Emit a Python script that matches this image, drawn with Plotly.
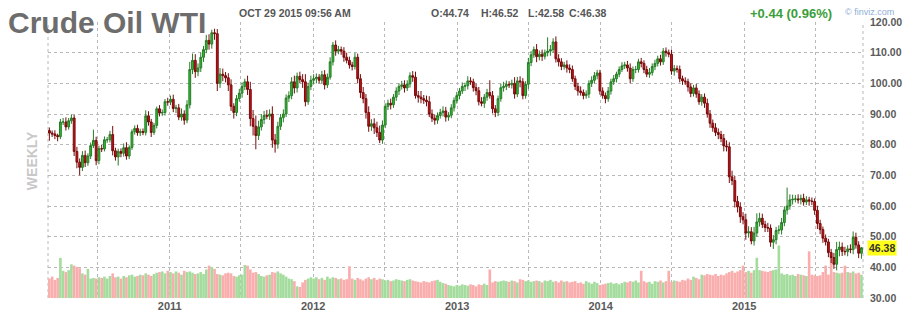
import pandas as pd
import plotly.graph_objects as go

# ---------------- data (weekly) ----------------
first_open = 84.6

close_2010 = [83.8, 83.5, 83.0, 82.6, 87.4, 87.4, 85.8, 87.8, 88.7, 77.8,
              74.3, 72.6, 76.5, 74.1, 76.3, 79.7, 81.4, 74.8, 78.7, 78.6,
              81.6, 81.6, 83.3, 78.0, 76.0, 77.8, 77.2, 79.0, 76.3, 79.1,
              84.2, 85.3, 83.9, 84.3, 84.0, 89.4, 87.4, 84.0, 86.3, 91.7,
              90.3, 90.5, 94.0, 93.9]
close_2011 = [94.8, 91.8, 92.0, 89.0, 90.0, 88.0, 93.0, 104.5, 107.5, 103.8,
              105.0, 108.5, 111.0, 114.0, 112.8, 116.5, 116.2, 100.0, 103.0, 102.5,
              101.8, 99.5, 92.5, 90.5, 95.0, 96.8, 99.0, 100.5, 98.0, 88.5,
              86.0, 83.0, 85.8, 88.2, 89.5, 89.3, 90.0, 81.5, 80.2, 86.0,
              88.8, 90.0, 95.2, 96.0, 100.5, 98.5, 102.3, 101.2, 100.5, 94.0,
              99.0, 101.0]
close_2012 = [101.5, 102.0, 101.0, 102.8, 99.5, 102.0, 107.0, 112.5, 110.5, 111.0,
              110.5, 108.5, 107.5, 106.0, 105.5, 108.5, 101.5, 97.0, 95.0, 90.5,
              86.0, 86.8, 85.5, 84.0, 81.5, 86.4, 92.5, 93.5, 93.0, 95.5,
              97.5, 99.0, 99.5, 98.5, 99.8, 102.5, 102.0, 96.0, 95.5, 95.0,
              94.5, 94.0, 90.0, 88.6, 88.0, 89.5, 90.5, 91.0, 89.0, 89.6,
              92.0, 94.4]
close_2013 = [96.0, 97.5, 99.0, 99.2, 100.8, 100.5, 98.6, 97.6, 94.0, 93.5,
              95.5, 97.0, 96.0, 91.7, 90.5, 95.0, 98.6, 99.0, 99.7, 99.5,
              100.0, 96.5, 100.8, 100.5, 96.0, 99.7, 106.8, 109.3, 111.0, 108.7,
              109.5, 108.8, 110.0, 110.5, 111.0, 113.5, 108.0, 107.0, 105.5, 106.0,
              105.0, 104.5, 101.5, 99.0, 97.5, 97.0, 96.0, 96.5, 100.0, 101.0,
              102.5, 103.4]
close_2014 = [97.5, 96.0, 95.0, 97.5, 100.5, 101.5, 103.0, 104.5, 105.7, 106.0,
              105.0, 101.5, 104.5, 104.5, 107.0, 106.5, 104.5, 103.0, 103.5, 105.5,
              106.5, 108.0, 107.0, 110.5, 110.0, 109.5, 104.0, 104.8, 104.5, 101.5,
              100.8, 100.5, 98.8, 96.7, 98.5, 96.5, 94.0, 95.5, 93.5, 90.0,
              87.0, 85.5, 84.0, 83.3, 82.0, 79.6, 79.3, 69.5, 68.3, 61.5,
              59.7, 56.5]
close_2015 = [55.5, 51.2, 51.6, 48.6, 51.2, 54.8, 56.0, 54.0, 53.0, 52.8,
              48.2, 49.0, 52.0, 52.2, 54.6, 58.7, 60.0, 62.0, 62.2, 62.3,
              62.0, 62.5, 61.3, 62.0, 61.6, 61.5, 58.6, 54.3, 52.3, 49.5,
              48.3, 44.8, 43.2, 41.0, 45.8, 46.6, 45.2, 45.1, 46.0, 45.8,
              49.8, 47.3, 44.6, 46.38]

# upper / lower wick lengths (price units above / below the candle body)
wick_up_2010 = [1.0, 0.8, 1.2, 0.6, 1.0, 1.3, 1.5, 0.9, 1.2, 1.0, 1.5, 1.2, 1.4, 1.6, 0.9,
                1.0, 3.5, 1.2, 1.0, 1.3, 1.1, 0.9, 1.2, 2.8, 1.0, 0.9, 1.0, 1.4, 1.8, 0.7,
                0.8, 1.0, 1.2, 0.9, 1.0, 1.8, 1.5, 1.0, 0.8, 0.7, 1.2, 1.0, 0.9, 1.3]
wick_dn_2010 = [2.5, 1.0, 1.2, 1.5, 0.8, 1.0, 1.2, 0.9, 1.0, 1.5, 2.0, 2.6, 1.2, 1.4, 1.0,
                1.0, 0.8, 1.5, 1.2, 1.0, 0.8, 1.0, 0.9, 1.5, 1.2, 2.8, 1.3, 1.1, 1.2, 1.0,
                0.8, 0.9, 1.0, 1.1, 0.9, 1.0, 1.2, 1.5, 0.8, 1.0, 1.1, 0.9, 1.0, 1.2]
wick_up_2011 = [1.2, 1.5, 1.0, 1.3, 1.8, 1.2, 1.5, 2.5, 2.2, 2.0, 1.5, 1.6, 1.2, 1.8, 2.0,
                1.0, 1.3, 1.5, 2.0, 1.8, 1.2, 1.5, 1.8, 1.0, 1.2, 1.4, 1.3, 1.0, 2.0, 2.5,
                2.8, 3.5, 2.0, 1.8, 1.5, 1.8, 1.5, 2.5, 2.0, 1.5, 1.2, 1.5, 1.2, 1.4, 1.5,
                2.0, 1.2, 1.5, 1.8, 2.5, 1.2, 1.5]
wick_dn_2011 = [1.0, 1.2, 1.5, 1.0, 1.2, 1.5, 1.0, 1.2, 1.5, 2.0, 1.5, 1.3, 1.5, 1.2, 1.8,
                1.5, 2.0, 2.5, 1.5, 1.8, 1.5, 2.0, 1.5, 2.0, 1.2, 1.0, 1.5, 1.2, 1.8, 2.5,
                3.0, 4.5, 1.5, 1.2, 1.5, 1.0, 1.2, 2.5, 2.8, 1.5, 1.2, 1.5, 1.0, 1.3, 1.2,
                1.8, 1.5, 1.2, 2.0, 1.5, 1.0, 1.2]
wick_up_2012 = [1.5, 1.2, 1.0, 1.3, 1.5, 1.2, 1.5, 1.0, 1.5, 1.2, 1.0, 1.3, 1.5, 1.2, 1.0,
                1.5, 1.2, 1.5, 1.8, 1.5, 2.0, 1.5, 1.8, 2.0, 2.2, 1.5, 1.0, 1.2, 1.5, 1.0,
                1.2, 1.0, 1.3, 1.5, 1.2, 1.1, 1.5, 1.8, 1.5, 2.0, 1.2, 1.5, 1.8, 1.5, 1.2,
                1.0, 1.2, 1.5, 1.3, 1.0, 1.2, 1.0]
wick_dn_2012 = [1.2, 1.5, 1.0, 1.2, 1.5, 1.0, 0.8, 1.2, 1.5, 1.0, 1.2, 1.5, 1.0, 1.2, 1.3,
                1.0, 1.5, 1.8, 1.5, 2.0, 1.8, 1.5, 2.0, 1.5, 1.0, 1.2, 1.0, 1.2, 1.5, 1.0,
                1.2, 1.3, 1.0, 1.5, 1.0, 1.2, 1.5, 1.0, 1.8, 1.5, 1.2, 1.5, 1.0, 1.2, 1.5,
                1.2, 1.0, 1.3, 1.5, 1.2, 1.0, 1.2]
wick_up_2013 = [1.2, 1.0, 1.3, 1.0, 1.5, 1.2, 1.0, 1.3, 1.2, 1.5, 1.0, 1.2, 4.0, 1.5, 1.2,
                1.0, 1.3, 1.5, 1.2, 1.0, 1.2, 2.0, 1.3, 1.5, 1.2, 1.0, 1.5, 1.2, 1.0, 1.8,
                1.2, 1.5, 1.0, 4.5, 1.5, 1.2, 1.8, 1.5, 1.2, 1.0, 1.5, 1.2, 1.3, 1.0, 1.2,
                1.5, 1.0, 1.2, 1.0, 1.3, 1.2, 1.0]
wick_dn_2013 = [1.0, 1.2, 1.0, 1.5, 1.2, 1.0, 1.3, 1.5, 1.2, 1.0, 1.5, 1.2, 1.0, 1.5, 1.5,
                1.2, 1.0, 1.3, 1.2, 1.0, 1.2, 1.5, 1.0, 1.8, 1.2, 1.0, 1.5, 1.2, 1.0, 1.8,
                1.2, 1.5, 1.0, 1.2, 1.5, 1.0, 1.2, 1.5, 1.2, 1.0, 1.5, 1.2, 1.0, 1.2, 1.5,
                1.0, 1.2, 1.0, 1.3, 1.2, 1.0, 1.2]
wick_up_2014 = [1.0, 1.2, 1.0, 1.3, 1.0, 1.2, 0.8, 1.0, 1.2, 1.0, 1.3, 1.5, 1.0, 1.2, 1.0,
                1.3, 1.0, 1.2, 1.5, 1.0, 1.2, 1.0, 1.3, 1.0, 1.2, 1.0, 1.5, 1.2, 1.0, 1.3,
                1.0, 1.2, 1.0, 1.2, 1.0, 1.3, 1.2, 1.0, 1.2, 1.5, 1.3, 1.2, 1.5, 1.3, 1.2,
                1.5, 1.8, 1.5, 2.0, 1.5, 1.8, 1.5]
wick_dn_2014 = [1.2, 1.0, 1.5, 1.0, 1.2, 1.0, 1.2, 1.0, 0.8, 1.0, 1.2, 1.5, 1.0, 1.2, 1.0,
                1.3, 1.2, 1.0, 1.2, 1.0, 1.2, 1.0, 1.2, 1.0, 1.3, 1.0, 1.2, 1.5, 1.0, 1.2,
                1.3, 1.0, 1.5, 1.2, 1.0, 1.2, 1.0, 1.3, 1.5, 1.2, 1.5, 1.3, 1.2, 1.5, 1.2,
                1.8, 1.5, 2.0, 1.5, 2.0, 1.8, 2.0]
wick_up_2015 = [1.5, 2.0, 1.8, 1.5, 2.0, 2.8, 1.8, 1.5, 1.2, 1.5, 1.2, 1.5, 1.2, 1.5, 1.5,
                1.2, 6.0, 1.8, 1.5, 1.3, 1.5, 1.2, 1.5, 1.2, 1.0, 1.2, 1.0, 1.5, 1.2, 1.0,
                1.2, 1.0, 1.2, 1.5, 2.5, 1.8, 1.5, 1.5, 1.2, 1.5, 1.9, 1.5, 1.2, 0.2]
wick_dn_2015 = [1.5, 2.2, 1.5, 1.1, 1.5, 1.2, 1.5, 1.2, 1.5, 1.3, 1.5, 2.2, 1.5, 1.2, 1.5,
                1.2, 1.5, 1.2, 1.5, 1.0, 1.2, 1.5, 1.2, 1.0, 1.5, 1.2, 1.5, 1.8, 1.5, 1.5,
                1.2, 1.5, 1.8, 1.5, 2.0, 2.2, 1.5, 1.2, 1.5, 1.2, 1.5, 1.2, 1.6, 1.8]

# weekly volume (thousand contracts)
volume_2010 = [1500, 1650, 1400, 1550, 3100, 2100, 2000, 2150, 2600, 2500,
               2400, 2300, 1900, 1800, 2250, 1500, 1550, 1500, 1600, 1550,
               1650, 1500, 1700, 1900, 1600, 1650, 1500, 1700, 1600, 1750,
               1800, 1650, 1700, 1800, 1750, 1900, 1800, 1700, 1850, 1950,
               2000, 2050, 1900, 2100]
volume_2011 = [2000, 1900, 2050, 1950, 1800, 2100, 2000, 2050, 1950, 1850,
               1900, 2000, 1850, 2200, 2500, 2400, 2250, 1850, 1800, 1750,
               1900, 1950, 1900, 1700, 1650, 1750, 1800, 2550, 2500, 2200,
               1950, 2000, 1850, 1700, 1650, 1750, 1800, 2000, 1950, 2050,
               1900, 1800, 1650, 1500, 1450, 1300, 900, 850, 1200, 1400,
               1500, 1600]
volume_2012 = [1500, 1600, 1450, 1550, 1400, 1650, 1500, 1600, 1550, 1450,
               1500, 1400, 1450, 2450, 1500, 1400, 1550, 1450, 1350, 1500,
               1600, 1450, 1550, 1400, 1500, 1450, 1350, 1400, 1300, 1350,
               1450, 1400, 1350, 1300, 1400, 1450, 1350, 1300, 1250, 1200,
               1300, 1250, 1200, 1300, 1350, 1400, 1250, 1150, 1100, 1000,
               950, 900]
volume_2013 = [1000, 950, 1050, 1000, 950, 1050, 1000, 900, 1050, 1000,
               1100, 1000, 2200, 1200, 1300, 1250, 1300, 1350, 1300, 1250,
               1350, 1300, 1200, 1450, 1400, 1300, 1350, 1250, 1300, 1350,
               1300, 1200, 1350, 1300, 1400, 1250, 1300, 1200, 1350, 1250,
               1300, 1200, 1250, 1300, 1150, 1200, 1100, 1300, 1200, 1100,
               1250, 1150]
volume_2014 = [1000, 1050, 1100, 1150, 1200, 1100, 1150, 1050, 1150, 1250,
               1200, 1300, 1250, 1350, 1200, 2100, 1300, 1200, 1250, 1100,
               1300, 1250, 1350, 1200, 1300, 2100, 1250, 1350, 1300, 1250,
               1400, 1350, 1500, 1400, 1650, 1550, 1450, 1800, 1750, 1850,
               1800, 1750, 1850, 1700, 1800, 1750, 1900, 2000, 2100, 1950,
               2050, 2150]
volume_2015 = [2500, 2000, 2100, 1950, 2150, 3100, 2150, 2100, 2050, 2000,
               2100, 2150, 2200, 4050, 1900, 1800, 1850, 1750, 1800, 1700,
               1850, 1800, 1750, 1700, 3600, 1800, 1750, 1700, 1750, 2000,
               2500, 1800, 3200, 2000, 1950, 1900, 1950, 2500, 2000, 1950,
               2050, 1900, 1950, 1800]

price_ticks = [30, 40, 50, 60, 70, 80, 90, 100, 110, 120]
year_ticks = ["2011-01-01", "2012-01-01", "2013-01-01", "2014-01-01", "2015-01-01"]
year_labels = ["2011", "2012", "2013", "2014", "2015"]
half_year_ticks = ["2010-07-01", "2011-07-01", "2012-07-01", "2013-07-01", "2014-07-01", "2015-07-01"]
last_price = 46.38
header_date = "OCT 29 2015 09:56 AM"
header_ohlc = [("O", "44.74"), ("H", "46.52"), ("L", "42.58"), ("C", "46.38")]
header_change = "+0.44 (0.96%)"

# ---------------- assemble ----------------
closes = close_2010 + close_2011 + close_2012 + close_2013 + close_2014 + close_2015
wick_up = wick_up_2010 + wick_up_2011 + wick_up_2012 + wick_up_2013 + wick_up_2014 + wick_up_2015
wick_dn = wick_dn_2010 + wick_dn_2011 + wick_dn_2012 + wick_dn_2013 + wick_dn_2014 + wick_dn_2015
volumes = volume_2010 + volume_2011 + volume_2012 + volume_2013 + volume_2014 + volume_2015
n = len(closes)
if not (len(wick_up) == len(wick_dn) == len(volumes) == n):
    raise SystemExit(f"length mismatch {n} {len(wick_up)} {len(wick_dn)} {len(volumes)}")

weeks = pd.date_range("2010-03-01", periods=n, freq="7D")
opens = [first_open] + closes[:-1]
highs = [max(o, c) + u for o, c, u in zip(opens, closes, wick_up)]
lows = [min(o, c) - d for o, c, d in zip(opens, closes, wick_dn)]
vol_colors = ["#a3dc9c" if c >= o else "#f9adad" for o, c in zip(opens, closes)]

# ---------------- figure ----------------
W, H = 914, 324
ML, MR, MT, MB = 48, 42, 22, 18
PW, PH = W - ML - MR, H - MT - MB


def px_x(x):
    return (x - ML) / PW


def px_y(y):
    return (H - MB - y) / PH


FONT = "Liberation Sans, Arial, sans-serif"
GRID = "#b8b8b8"

fig = go.Figure()
fig.add_trace(go.Bar(
    x=weeks, y=volumes, marker=dict(color=vol_colors, line=dict(width=0)),
    yaxis="y", hoverinfo="skip", showlegend=False))
fig.add_trace(go.Candlestick(
    x=weeks, open=opens, high=highs, low=lows, close=closes, yaxis="y2",
    increasing=dict(fillcolor="#2cbf2c", line=dict(color="#287a28", width=1)),
    decreasing=dict(fillcolor="#c8101a", line=dict(color="#760a0a", width=1)),
    whiskerwidth=0, showlegend=False))

grid_x = [half_year_ticks[0]] + [v for pair in zip(year_ticks, half_year_ticks[1:]) for v in pair]
grid_text = ["" if v in half_year_ticks else year_labels[year_ticks.index(v)] for v in grid_x]

fig.update_layout(
    width=W, height=H, margin=dict(l=ML, r=MR, t=MT, b=MB, pad=0),
    paper_bgcolor="white", plot_bgcolor="white", bargap=0.05, boxgap=0.05,
    showlegend=False,
    xaxis=dict(type="date", range=["2010-02-25 12:00", "2015-10-30"],
               tickvals=grid_x, ticktext=grid_text, ticks="",
               showgrid=True, gridcolor=GRID, gridwidth=1, griddash="dot",
               zeroline=False, showline=False, rangeslider=dict(visible=False),
               tickfont=dict(family=FONT, size=11, color="#5a5a5a", weight="bold")),
    yaxis=dict(range=[0, 21300], visible=False, fixedrange=True),
    yaxis2=dict(range=[30, 120], overlaying="y", side="right", tickvals=price_ticks,
                tickformat=".2f", ticks="", ticklabelstandoff=6,
                showgrid=True, gridcolor=GRID, gridwidth=1, griddash="dot",
                zeroline=False, showline=False,
                tickfont=dict(family=FONT, size=10.5, color="#5a5a5a", weight="bold")),
)

# frame edges (dotted, like the grid)
for xe in (0, 1):
    fig.add_shape(type="line", xref="paper", yref="paper", x0=xe, x1=xe, y0=0, y1=1,
                  line=dict(color=GRID, width=1, dash="dot"), layer="below")

ann = []
ann.append(dict(text="Crude Oil WTI", x=px_x(6), y=px_y(22), xanchor="left", yanchor="middle",
                font=dict(family=FONT, size=30, color="#6d6d6d", weight="bold")))
ann.append(dict(text=header_date, x=px_x(239), y=px_y(13), xanchor="left", yanchor="middle",
                font=dict(family=FONT, size=10.5, color="#555555", weight="bold")))
for (k, v), xp in zip(header_ohlc, [433, 484, 531, 573]):
    ann.append(dict(text=f"{k}:{v}", x=px_x(xp), y=px_y(13), xanchor="left", yanchor="middle",
                    font=dict(family=FONT, size=10.5, color="#555555", weight="bold")))
ann.append(dict(text=header_change, x=px_x(756), y=px_y(13), xanchor="left", yanchor="middle",
                font=dict(family=FONT, size=13, color="#3a9e3a", weight="bold")))
ann.append(dict(text="© finviz.com", x=px_x(852), y=px_y(12), xanchor="left", yanchor="middle",
                font=dict(family=FONT, size=9, color="#8eaed6")))
ann.append(dict(text="WEEKLY", x=px_x(32), y=px_y(165), xanchor="center", yanchor="middle",
                textangle=-90, font=dict(family=FONT, size=14, color="#c8c8c8", weight="bold")))
ann.append(dict(text=f"{last_price:.2f}", x=px_x(876), y=last_price, yref="y2",
                xanchor="left", yanchor="middle", bgcolor="#ffff1a", borderpad=1,
                font=dict(family=FONT, size=10.5, color="#333333", weight="bold")))
for a in ann:
    a.setdefault("xref", "paper")
    a.setdefault("yref", "paper")
    a["showarrow"] = False
fig.update_layout(annotations=ann)

fig.write_html("out.html")
